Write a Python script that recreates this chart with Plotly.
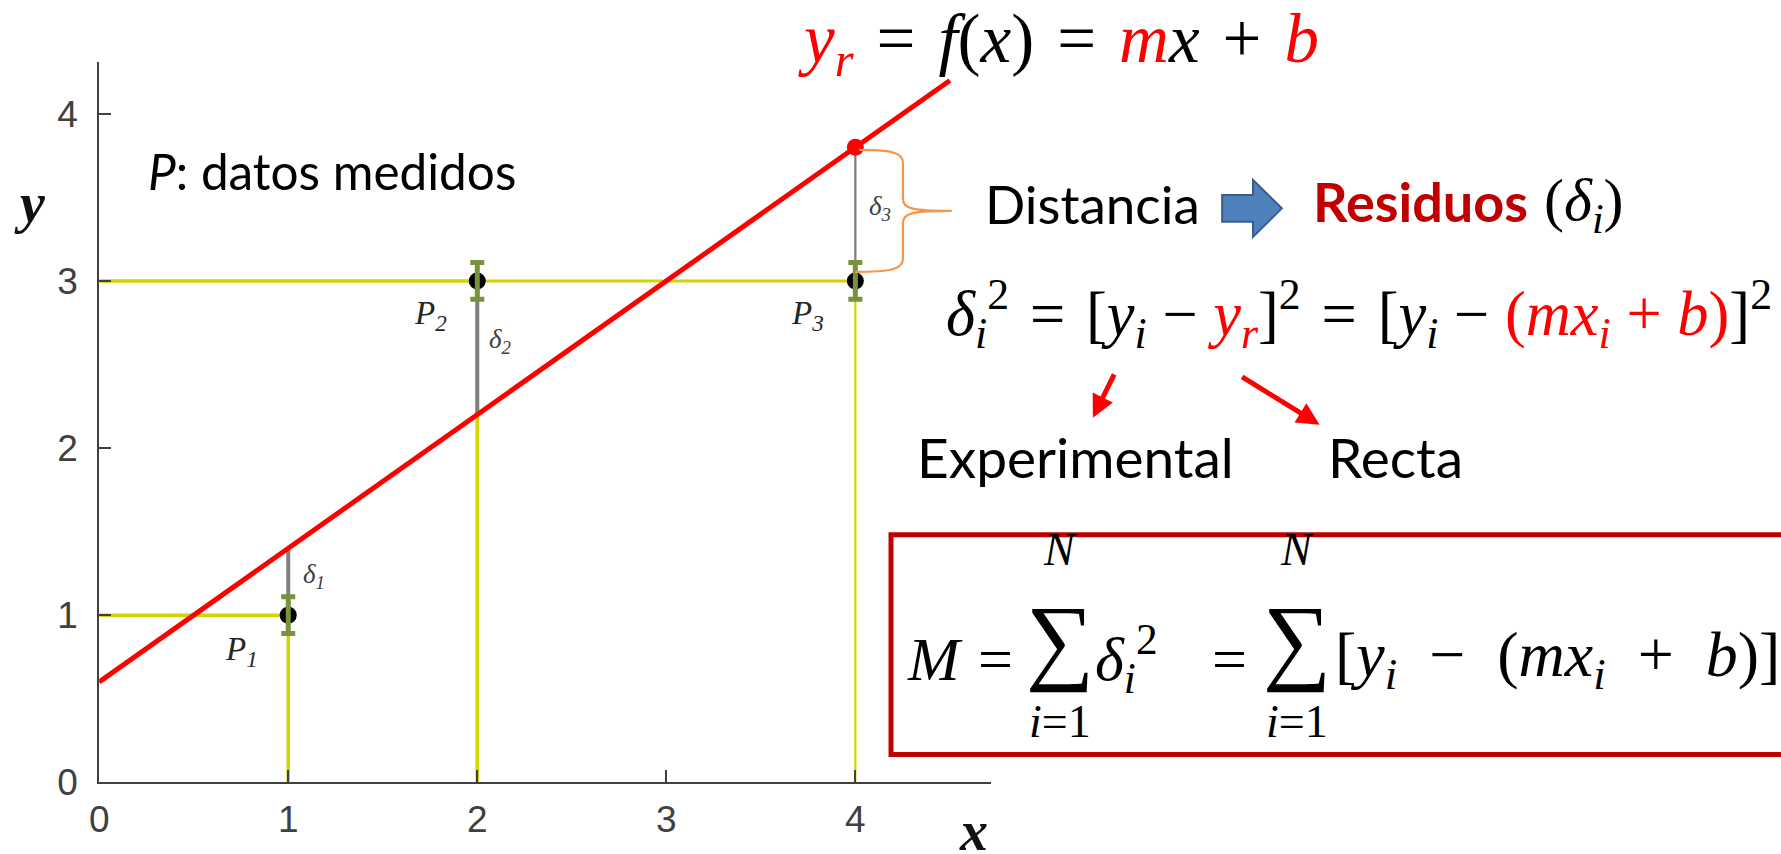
import plotly.graph_objects as go

W, H = 1781, 854

# ---- data -------------------------------------------------------------
x_pts = [1, 2, 4]                 # measured x_i
y_pts = [1, 3, 3]                 # measured y_i
y_err = [0.11, 0.11, 0.11]        # uncertainty on y_i
fit_y = [1.4, 2.2, 3.8]           # y_r on the fitted line at each x_i
line_x = [0, 4.5]                 # fitted line end points
line_y = [0.6, 4.2]
x_ticks = [0, 1, 2, 3, 4]
y_ticks = [0, 1, 2, 3, 4]
x_range = [0, 4.72]
y_range = [0, 4.31]
point_names = ["1", "2", "3"]

# ---- styling ----------------------------------------------------------
RED = "#ff0000"
DARKRED = "#c00000"
YELLOW = "#d4d400"
GRAY = "#808080"
GREEN = "#77933c"
ORANGE = "#f79646"
AXIS = "#404040"
SANS = "Lato, 'Open Sans', sans-serif"
SERIF = "'Liberation Serif', 'DejaVu Serif', serif"
SP = "\u2002"     # en space
QS = "\u2005"     # four-per-em space
MS = "\u2004"     # three-per-em space

# page placement of the drawing (page pixels)
X_SHIFT = 8.0
Y_SCALE = 0.976


def px(x):
    return (x - X_SHIFT) / W


def py(y):
    return 1 - (y / Y_SCALE) / H


# plot area in page pixels
AX_L, AX_R = 97.7, 995.0
AX_B, AX_T = 782.7, 62.1

fig = go.Figure()

# projection lines to the axes
v_widths = [3.5, 3.5, 2.2]
h_widths = [3.5, 3.0, 3.0]
for xi, yi, wv, wh in zip(x_pts, y_pts, v_widths, h_widths):
    fig.add_trace(go.Scatter(x=[0, xi], y=[yi, yi], mode="lines",
                             line=dict(color=YELLOW, width=wh), hoverinfo="skip"))
    fig.add_trace(go.Scatter(x=[xi, xi], y=[0, yi], mode="lines",
                             line=dict(color=YELLOW, width=wv), hoverinfo="skip"))

# residuals
r_widths = [4, 4, 2.3]
for xi, yi, fi, w in zip(x_pts, y_pts, fit_y, r_widths):
    fig.add_trace(go.Scatter(x=[xi, xi], y=[yi, fi], mode="lines",
                             line=dict(color=GRAY, width=w), hoverinfo="skip"))

# fitted line
fig.add_trace(go.Scatter(x=line_x, y=line_y, mode="lines",
                         line=dict(color=RED, width=5), hoverinfo="skip"))

# measured points
fig.add_trace(go.Scatter(x=x_pts, y=y_pts, mode="markers",
                         marker=dict(color="black", size=17), hoverinfo="skip"))
# error bars on top of the points
fig.add_trace(go.Scatter(x=x_pts, y=y_pts, mode="markers",
                         marker=dict(size=1, opacity=0),
                         error_y=dict(type="data", array=y_err, visible=True,
                                      color=GREEN, thickness=5, width=7),
                         hoverinfo="skip"))
# point on the line above P3
fig.add_trace(go.Scatter(x=[x_pts[2]], y=[fit_y[2]], mode="markers",
                         marker=dict(color=RED, size=17), hoverinfo="skip"))

ann = []


def text(x, y, s, size, family=SANS, color="black", xanchor="left", yanchor="middle"):
    ann.append(dict(x=px(x), y=py(y), xref="paper", yref="paper", text=s,
                    showarrow=False, xanchor=xanchor, yanchor=yanchor,
                    font=dict(size=size, family=family, color=color)))


# point and residual labels
p_pos = [(222, 652), (412, 316), (791, 316)]
d_pos = [(301, 576), (488, 341), (870, 208)]
for n, (xp, yp), (xd, yd) in zip(point_names, p_pos, d_pos):
    text(xp, yp, f"<i>P<sub>{n}</sub></i>", 33, SERIF, "#262626")
    text(xd, yd, f"<i>δ<sub>{n}</sub></i>", 27, SERIF, "#404040")

# axis titles
text(28, 203, "<b><i>y</i></b>", 56, SERIF, "#111111", "center")
text(977, 832, "<b><i>x</i></b>", 56, SERIF, "#111111", "center")

text(145, 171, "<i>P</i>: datos medidos", 49.5)

# model equation
text(798, 44,
     f"<span style='color:{RED}'><i>y<sub>r</sub></i></span>{MS}={MS}<i>f</i>(<i>x</i>){MS}={MS}"
     f"<span style='color:{RED}'><i>m</i></span><i>x</i>{MS}+{MS}"
     f"<span style='color:{RED}'><i>b</i></span>", 69, SERIF)

# distance -> residuals
text(986, 204, "Distancia", 53)
text(1316, 202, f"<span style='color:{DARKRED}'><b>Residuos</b></span>", 54)
text(1549, 205, "(<i>δ<sub>i</sub></i>)", 60, SERIF)

# squared residual
text(947, 314,
     f"<i>δ<sub>i</sub></i><sup>2</sup>{MS}={MS}[<i>y<sub>i</sub></i>{QS}−{QS}"
     f"<span style='color:{RED}'><i>y<sub>r</sub></i></span>]<sup>2</sup>{MS}={MS}"
     f"[<i>y<sub>i</sub></i>{QS}−{QS}<span style='color:{RED}'>(<i>mx<sub>i</sub></i>{QS}+{QS}<i>b</i>)</span>]<sup>2</sup>",
     62.5, SERIF)

text(918, 457, "Experimental", 55)
text(1331, 457, "Recta", 55)

# sum of squared residuals
ROW = 659
text(908, ROW, "<i>M</i>", 62, SERIF)
text(979, ROW, "=", 62, SERIF)
for cx in (1064, 1302):
    text(cx, 640, "∑", 96, SERIF, "black", "center")
    text(cx, 550, "<i>N</i>", 46, SERIF, "black", "center")
    text(cx, 722, "<i>i</i>=1", 46, SERIF, "black", "center")
text(1097, ROW, "<i>δ<sub>i</sub></i><sup>2</sup>", 62, SERIF)
text(1215, ROW, "=", 62, SERIF)
text(1338, ROW, f"[<i>y<sub>i</sub></i>{SP}−{SP}(<i>mx<sub>i</sub></i>{SP}+{SP}<i>b</i>)]", 64, SERIF)

# arrows from the equation to their meaning
for tip, tail in [((1097, 418), (1119, 372)), ((1325, 425), (1246, 375))]:
    ann.append(dict(x=px(tip[0]), y=py(tip[1]), xref="paper", yref="paper",
                    ax=tail[0] - tip[0], ay=(tail[1] - tip[1]) * Y_SCALE, text="",
                    showarrow=True, arrowhead=2, arrowsize=0.9, arrowwidth=5,
                    arrowcolor=RED))

shapes = []


def path(cmds):
    out = []
    for c, pts in cmds:
        coords = " ".join(f"{px(a):.5f},{py(b):.5f}" for a, b in pts)
        out.append(f"{c}{coords}")
    return " ".join(out)


# curly brace marking delta_3
brace = path([("M", [(862, 150)]),
              ("C", [(892, 150), (906, 152), (906, 163)]),
              ("L", [(906, 199)]),
              ("C", [(906, 209), (916, 211), (955, 211)]),
              ("C", [(916, 211), (906, 213), (906, 223)]),
              ("L", [(906, 259)]),
              ("C", [(906, 270), (892, 272), (858, 272)])])
shapes.append(dict(type="path", path=brace, xref="paper", yref="paper",
                   line=dict(color=ORANGE, width=2.2)))

# block arrow
block = path([("M", [(1227, 195)]), ("L", [(1258, 195)]), ("L", [(1258, 180)]),
              ("L", [(1287, 208.5)]), ("L", [(1258, 237)]), ("L", [(1258, 222)]),
              ("L", [(1227, 222)])]) + " Z"
shapes.append(dict(type="path", path=block, xref="paper", yref="paper",
                   fillcolor="#4f81bd", line=dict(color="#385d8a", width=2)))

# frame around the sum
shapes.append(dict(type="rect", xref="paper", yref="paper",
                   x0=px(894), x1=px(1810), y0=py(755), y1=py(535),
                   line=dict(color=DARKRED, width=5)))

axis_common = dict(showgrid=False, zeroline=False, showline=True, linecolor=AXIS,
                   linewidth=2, ticks="inside", ticklen=12, tickwidth=2,
                   tickcolor=AXIS,
                   tickfont=dict(family="'Liberation Sans', Arial, sans-serif",
                                 size=37, color=AXIS))

fig.update_layout(
    width=W, height=H,
    margin=dict(l=0, r=0, t=0, b=0),
    paper_bgcolor="white", plot_bgcolor="white",
    showlegend=False,
    xaxis=dict(domain=[px(AX_L), px(AX_R)], range=x_range, tickvals=x_ticks,
               ticklabelstandoff=3, **axis_common),
    yaxis=dict(domain=[py(AX_B), py(AX_T)], range=y_range, tickvals=y_ticks,
               ticklabelstandoff=12, **axis_common),
    annotations=ann,
    shapes=shapes,
)

fig.write_html("out.html")
